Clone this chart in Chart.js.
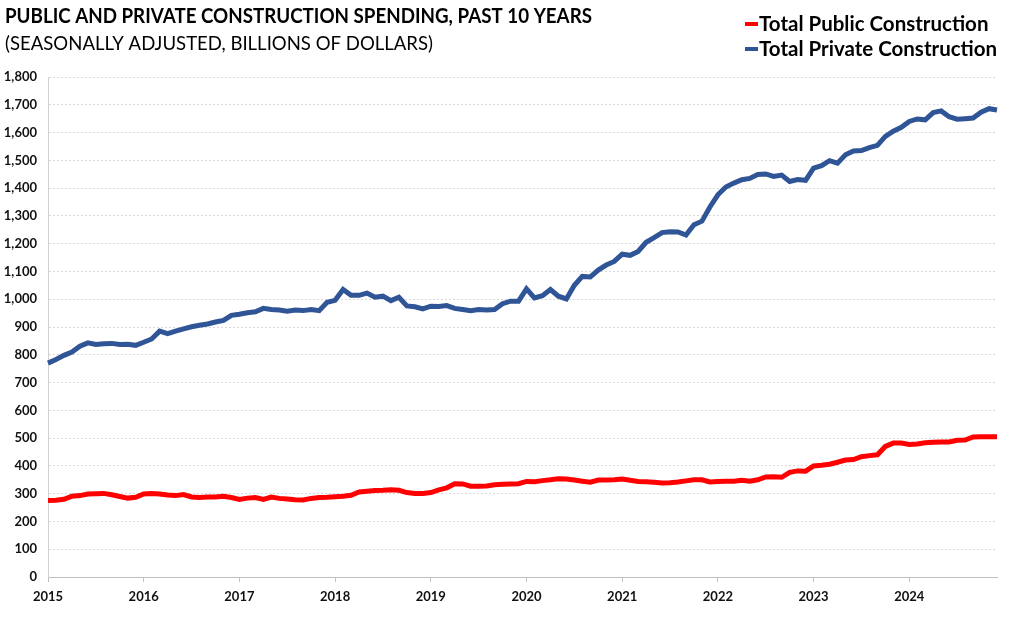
<!DOCTYPE html>
<html>
<head>
<meta charset="utf-8">
<script src="https://cdn.jsdelivr.net/npm/chart.js@4"></script>
<style>
  body { margin: 0; background: #fff; }
  #wrap { position: relative; width: 1024px; height: 622px; }
</style>
</head>
<body>
<div id="wrap"><canvas id="chart"></canvas></div>
<script>
// Public vs private construction spending, monthly, 2015-2024

const years = ["2015", "2016", "2017", "2018", "2019", "2020", "2021", "2022", "2023", "2024"];
const monthNames = ["Jan", "Feb", "Mar", "Apr", "May", "Jun", "Jul", "Aug", "Sep", "Oct", "Nov", "Dec"];
const months = years.flatMap((y) => monthNames.map((m) => `${m} ${y}`));

const yTicks = [0, 1800, 100]; // min, max, step

const publicSpending = [
  275, 276, 280, 291, 293, 299, 300, 301, 296, 290, 284, 287,
  299, 301, 299, 295, 293, 297, 288, 286, 288, 288, 291, 286,
  279, 284, 286, 279, 288, 283, 281, 278, 277, 283, 286, 287,
  289, 291, 294, 306, 309, 311, 312, 314, 312, 304, 301, 301,
  304, 314, 321, 336, 335, 327, 327, 328, 332, 334, 335, 336,
  344, 343, 347, 350, 354, 353, 349, 345, 341, 349, 349, 350,
  353, 348, 344, 343, 341, 338, 339, 342, 346, 350, 350, 342,
  344, 345, 345, 348, 345, 350, 360, 361, 359, 377, 382, 381,
  400, 402, 406, 413, 421, 423, 433, 437, 440, 470, 482, 482,
  477, 479, 483, 485, 486, 486, 492, 493, 504, 505, 505, 505,
];

const privateSpending = [
  770, 783, 798, 810, 831, 843, 837, 840, 841, 837, 838, 834,
  845, 857, 885, 876, 885, 893, 901, 906, 911, 918, 924, 942,
  946, 951, 955, 967, 963, 961, 957, 961, 959, 963, 959, 989,
  996, 1035, 1014, 1014, 1022, 1007, 1011, 995, 1007, 976, 973, 965,
  975, 974, 977, 967, 963, 959, 963, 961, 963, 984, 993, 993,
  1037, 1005, 1013, 1035, 1011, 1001, 1050, 1082, 1080, 1105, 1123, 1136,
  1162, 1158, 1172, 1205, 1222, 1240, 1243, 1242, 1231, 1268, 1281, 1332,
  1376, 1404, 1418, 1430, 1435, 1449, 1451, 1442, 1447, 1424, 1431, 1428,
  1472, 1481, 1499, 1490, 1520, 1534, 1535, 1546, 1554, 1586, 1605, 1619,
  1640, 1649, 1646, 1672, 1678, 1657, 1648, 1650, 1652, 1673, 1686, 1681,
];

const seriesNames = ["Total Public Construction", "Total Private Construction"];
const seriesColors = ["#ff0000", "#2f5597"];

const FONT = "Lato, 'Open Sans', sans-serif";

// title, subtitle and the top-right legend
const headerPlugin = {
  id: "header",
  afterDraw(chart) {
    const c = chart.ctx;
    c.save();
    c.fillStyle = "#000";
    c.textBaseline = "alphabetic";
    c.textAlign = "left";
    c.font = `bold 20px ${FONT}`;
    c.fillText("PUBLIC AND PRIVATE CONSTRUCTION SPENDING, PAST 10 YEARS", 5, 23, 587);
    c.font = `20px ${FONT}`;
    c.fillText("(SEASONALLY ADJUSTED, BILLIONS OF DOLLARS)", 5, 50, 428);

    c.font = `bold 20.5px ${FONT}`;
    seriesNames.forEach((name, i) => {
      const y = 31 + i * 25;
      c.strokeStyle = seriesColors[i];
      c.lineWidth = 4;
      c.beginPath();
      c.moveTo(745, y - 7);
      c.lineTo(758, y - 7);
      c.stroke();
      c.fillText(name, 759, y);
    });
    c.restore();
  },
};

new Chart(document.getElementById("chart"), {
  type: "line",
  data: {
    labels: months,
    datasets: seriesNames.map((name, i) => ({
      label: name,
      data: i === 0 ? publicSpending : privateSpending,
      borderColor: seriesColors[i],
      backgroundColor: seriesColors[i],
      borderWidth: 5,
      pointRadius: 0,
      tension: 0,
    })),
  },
  options: {
    responsive: true,
    maintainAspectRatio: false,
    animation: false,
    layout: { padding: { top: 77, right: 27, left: 0, bottom: 0 } },
    plugins: {
      legend: { display: false },
      tooltip: { enabled: false },
    },
    scales: {
      x: {
        offset: false,
        grid: {
          drawOnChartArea: false,
          tickLength: 5,
          color: (ctx) => (ctx.index % 12 === 0 ? "#bfbfbf" : "transparent"),
        },
        border: { color: "#bfbfbf" },
        ticks: {
          autoSkip: false,
          maxRotation: 0,
          padding: 7,
          color: "#111",
          font: { family: FONT, size: 13, weight: "bold" },
          callback: (v, i) => (i % 12 === 0 ? years[i / 12] : ""),
        },
        afterFit: (s) => { s.height = 45; },
      },
      y: {
        min: yTicks[0],
        max: yTicks[1],
        grid: { color: "#d9d9d9", drawTicks: false },
        border: { color: "#d0d0d0", dash: [2, 2] },
        ticks: {
          stepSize: yTicks[2],
          padding: 11,
          color: "#111",
          font: { family: FONT, size: 13, weight: "bold" },
          callback: (v) => v.toLocaleString("en-US"),
        },
        afterFit: (s) => { s.width = 48; },
      },
    },
  },
  plugins: [headerPlugin],
});
</script>
</body>
</html>
